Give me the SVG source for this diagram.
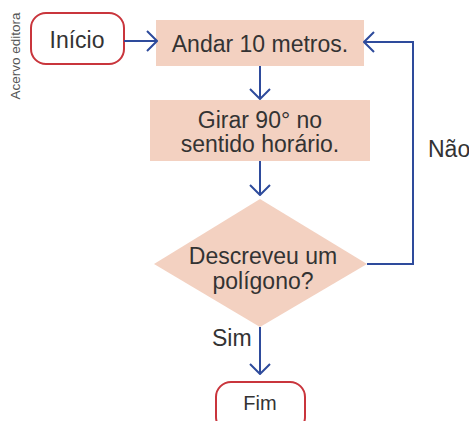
<svg xmlns="http://www.w3.org/2000/svg" width="469" height="421" viewBox="0 0 469 421">
<style>
.t{font-family:"Liberation Sans",Arial,sans-serif;font-size:23px;fill:#333;text-anchor:middle}
.proc{fill:#f3d1c1}
.term{fill:#fff;stroke:#c9353c;stroke-width:2}
.con{fill:none;stroke:#2e4b9c;stroke-width:2}
</style>
<defs>
<marker id="ah" viewBox="0 0 12 22" refX="11" refY="11" markerWidth="12" markerHeight="22" markerUnits="userSpaceOnUse" orient="auto">
<path d="M1 1 L11 11 L1 21" fill="none" stroke="#2e4b9c" stroke-width="2"/>
</marker>
</defs>
<text transform="translate(20,56) rotate(-90)" style="font-family:'Liberation Sans',Arial,sans-serif;font-size:13.5px;fill:#555;text-anchor:middle">Acervo editora</text>
<g id="inicio">
<rect class="term" x="31" y="13" width="93" height="51" rx="15"/>
<text class="t" x="77" y="48">Início</text>
</g>
<g id="andar">
<rect class="proc" x="156" y="20" width="208" height="46"/>
<text class="t" x="260" y="52">Andar 10 metros.</text>
</g>
<g id="girar">
<rect class="proc" x="150" y="100" width="220" height="61"/>
<text class="t" x="260" y="128">Girar 90° no</text>
<text class="t" x="260" y="152">sentido horário.</text>
</g>
<g id="decisao">
<polygon class="proc" points="260,199 367,264 260,327 154,264"/>
<text class="t" x="263" y="264">Descreveu um</text>
<text class="t" x="263" y="289">polígono?</text>
</g>
<g id="fim">
<rect class="term" x="216" y="382" width="89" height="50" rx="15"/>
<text class="t" x="260" y="410" style="font-size:20px">Fim</text>
</g>
<g id="connectors">
<line class="con" x1="124" y1="41" x2="157" y2="41" marker-end="url(#ah)"/>
<line class="con" x1="260" y1="66" x2="260" y2="99" marker-end="url(#ah)"/>
<line class="con" x1="260" y1="161" x2="260" y2="195" marker-end="url(#ah)"/>
<polyline class="con" points="367,264 413,264 413,42 364,42" marker-end="url(#ah)"/>
<line class="con" x1="260" y1="327" x2="260" y2="374" marker-end="url(#ah)"/>
<text class="t" x="428" y="157" style="text-anchor:start">Não</text>
<text class="t" x="212" y="346" style="text-anchor:start">Sim</text>
</g>
</svg>
